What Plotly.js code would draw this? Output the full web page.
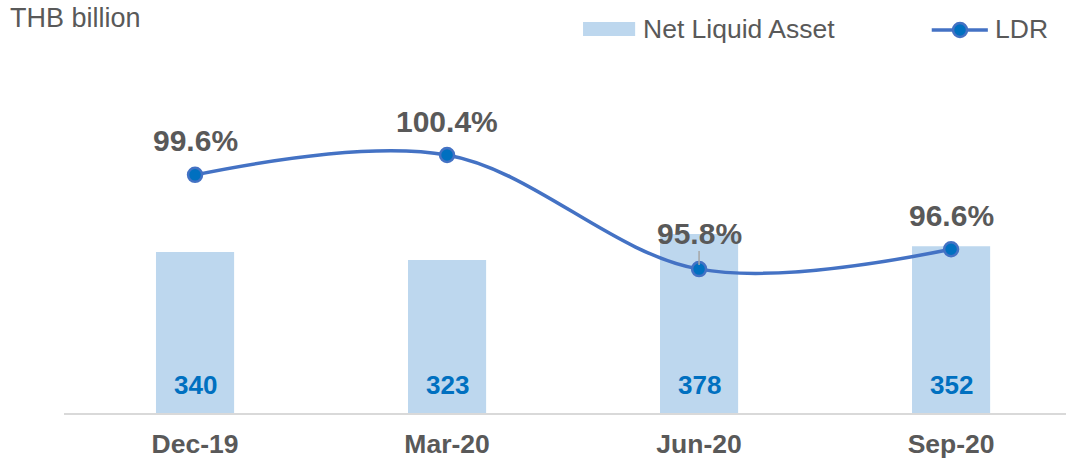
<!DOCTYPE html>
<html>
<head>
<meta charset="utf-8">
<script src="https://cdn.plot.ly/plotly-3.0.1.min.js"></script>
<style>
  html, body { margin: 0; padding: 0; background: #ffffff; }
  #chart { width: 1066px; height: 462px; }
</style>
</head>
<body>
<div id="chart"></div>
<script>
const categories = ["Dec-19", "Mar-20", "Jun-20", "Sep-20"];
const netLiquidAsset = [340, 323, 378, 352];
const ldr = [99.6, 100.4, 95.8, 96.6];
const ldrLabels = ["99.6%", "100.4%", "95.8%", "96.6%"];
const barLabels = ["340", "323", "378", "352"];

const FONT = "'Liberation Sans', Arial, Helvetica, sans-serif";
const GREY = "#595959";

const barTrace = {
  type: "bar",
  x: categories,
  y: netLiquidAsset,
  width: 0.31,
  marker: { color: "#BDD7EE" },
  hoverinfo: "skip",
  showlegend: false
};

const lineTrace = {
  type: "scatter",
  mode: "lines+markers",
  x: categories,
  y: ldr,
  yaxis: "y2",
  line: { color: "#4472C4", width: 3.5, shape: "spline", smoothing: 1 },
  marker: { color: "#0070C0", size: 14, line: { color: "#4472C4", width: 2.5 } },
  hoverinfo: "skip",
  showlegend: false
};

const annotations = [];
categories.forEach((c, i) => {
  annotations.push({
    x: c, y: 0, xref: "x", yref: "y",
    text: barLabels[i],
    showarrow: false,
    yanchor: "middle",
    yshift: 28,
    font: { family: FONT, size: 26, color: "#0070C0", weight: "bold" }
  });
  const isJun = i === 2;
  annotations.push({
    x: c, y: ldr[i], xref: "x", yref: "y2",
    text: ldrLabels[i],
    showarrow: true,
    ax: 0, ay: isJun ? -36 : -34,
    arrowhead: 0,
    arrowwidth: 1.5,
    standoff: 4,
    arrowcolor: isJun ? "#A6A6A6" : "rgba(0,0,0,0)",
    font: { family: FONT, size: 30, color: GREY, weight: "bold" }
  });
});

annotations.push({
  xref: "paper", yref: "paper", x: -0.0559, y: 1.119,
  xanchor: "left", yanchor: "middle", showarrow: false,
  text: "THB billion",
  font: { family: FONT, size: 27, color: GREY }
});
annotations.push({
  xref: "paper", yref: "paper", x: 0.5758, y: 1.088,
  xanchor: "left", yanchor: "middle", showarrow: false,
  text: "Net Liquid Asset",
  font: { family: FONT, size: 26.5, color: GREY }
});
annotations.push({
  xref: "paper", yref: "paper", x: 0.927, y: 1.088,
  xanchor: "left", yanchor: "middle", showarrow: false,
  text: "LDR",
  font: { family: FONT, size: 26.5, color: GREY }
});

const shapes = [
  { type: "rect", xref: "paper", yref: "paper", x0: 0.518, x1: 0.570, y0: 1.068, y1: 1.108,
    fillcolor: "#BDD7EE", line: { width: 0 } },
  { type: "line", xref: "paper", yref: "paper", x0: 0.866, x1: 0.922, y0: 1.085, y1: 1.085,
    line: { color: "#4472C4", width: 3.5 } },
  { type: "circle", xref: "paper", yref: "paper",
    x0: (953 - 64) / 1002, x1: (967 - 64) / 1002, y0: (413 - 37) / 353, y1: (413 - 23) / 353,
    fillcolor: "#0070C0", line: { color: "#4472C4", width: 2.5 } }
];

const layout = {
  width: 1066, height: 462,
  margin: { l: 64, r: 0, t: 60, b: 49 },
  paper_bgcolor: "#ffffff",
  plot_bgcolor: "#ffffff",
  showlegend: false,
  xaxis: {
    type: "category",
    range: [-0.52, 3.456],
    showline: true, linecolor: "#D9D9D9", linewidth: 2,
    showgrid: false, zeroline: false, ticks: "",
    ticklabelstandoff: 6,
    tickfont: { family: FONT, size: 26.5, color: GREY, weight: "bold" },
    fixedrange: true
  },
  yaxis: {
    range: [0, 745],
    visible: false, showgrid: false, zeroline: false, fixedrange: true
  },
  yaxis2: {
    range: [90.0, 104.23],
    overlaying: "y", side: "right",
    visible: false, showgrid: false, zeroline: false, fixedrange: true
  },
  annotations: annotations,
  shapes: shapes
};

Plotly.newPlot("chart", [barTrace, lineTrace], layout, { staticPlot: true, displayModeBar: false });
</script>
</body>
</html>
